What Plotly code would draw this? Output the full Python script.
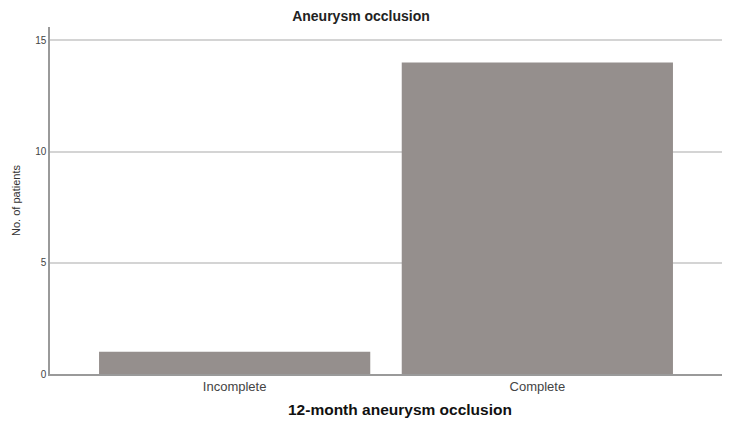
import plotly.graph_objects as go

categories = ["Incomplete", "Complete"]
counts = [1, 14]
y_ticks = [0, 5, 10, 15]

fig = go.Figure()
fig.add_trace(go.Bar(
    x=categories, y=counts,
    marker=dict(color="#958f8d", line=dict(width=0)),
    width=0.896,
))

fig.update_layout(
    width=750, height=425,
    margin=dict(l=50, r=28, t=27, b=51),
    paper_bgcolor="white", plot_bgcolor="white",
    font=dict(family="Arial, Liberation Sans, sans-serif", color="#333"),
    showlegend=False,
    title=dict(text="<b>Aneurysm occlusion</b>", x=361/750, xanchor="center",
               y=1 - 16/425, yanchor="middle",
               font=dict(size=14, color="#222")),
    xaxis=dict(
        range=[-0.61, 1.61],
        showline=True, linecolor="#9a9a9a", linewidth=1.5,
        ticks="", tickfont=dict(size=13, color="#444"),
        showgrid=False,
    ),
    yaxis=dict(
        range=[0, 15.6],
        tickvals=y_ticks,
        showline=True, linecolor="#9a9a9a", linewidth=1.5,
        showgrid=True, gridcolor="#d4d4d4", gridwidth=1.5,
        zeroline=False,
        ticks="", ticklen=0, tickfont=dict(size=10, color="#444"),
        title=dict(text="No. of patients", font=dict(size=11, color="#333"), standoff=12),
    ),
    annotations=[dict(
        text="<b>12-month aneurysm occlusion</b>",
        xref="paper", yref="paper",
        x=(400 - 50) / 672, y=-(409 - 374) / 347,
        xanchor="center", yanchor="middle", showarrow=False,
        font=dict(size=15.5, color="#111"),
    )],
)

fig.write_html("out.html")
